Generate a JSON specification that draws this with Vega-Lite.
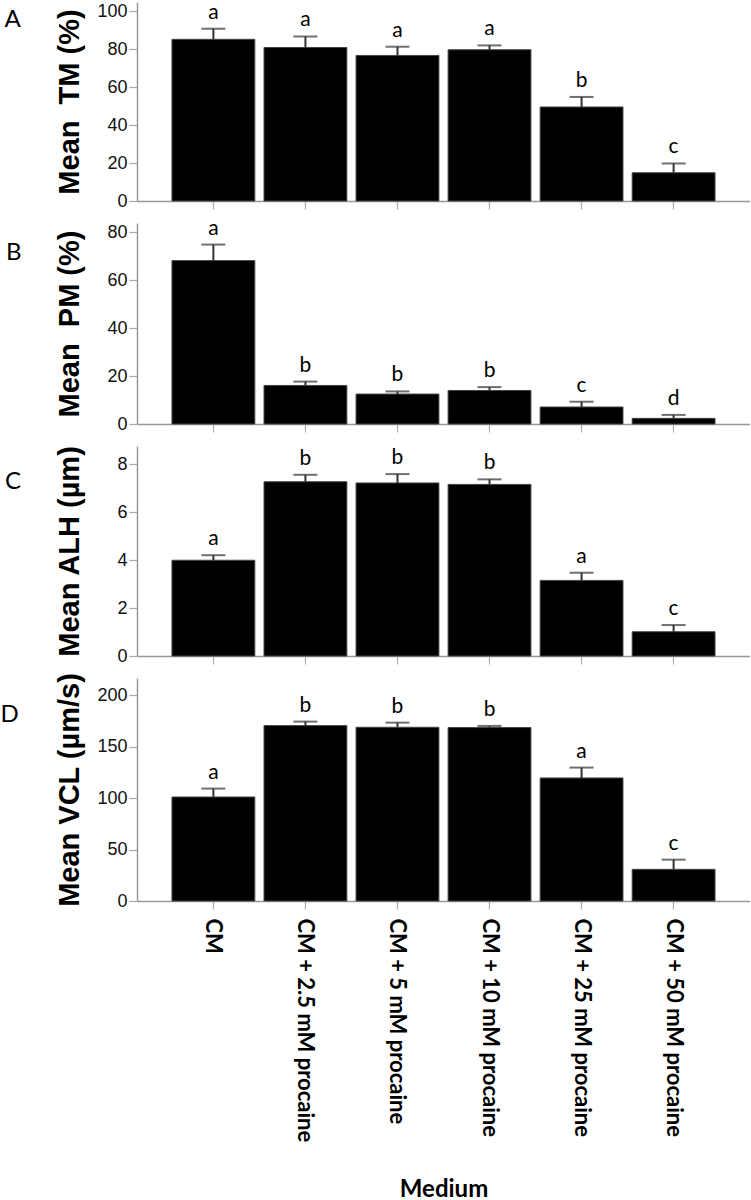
{
  "$schema": "https://vega.github.io/schema/vega-lite/v6.json",
  "padding": {"left": 0, "top": 1, "right": 0, "bottom": 0},
  "background": "white",
  "config": {
    "view": {"stroke": null},
    "axis": {"domainColor": "#999", "domainWidth": 1.5, "tickColor": "#aaa", "tickWidth": 1.2, "grid": false, "tickSize": 8},
    "axisY": {"labelOverlap": false, "titleX": -59, "titleBaseline": "alphabetic", "titleFont": "Liberation Sans", "titleFontSize": 29, "titleFontWeight": "bold", "titleColor": "#000", "labelFont": "Liberation Sans", "labelFontSize": 18, "labelColor": "#111", "labelPadding": 2},
    "title": {"orient": "left", "anchor": "end", "frame": "group", "angle": 0, "align": "right", "baseline": "top", "font": "Lato", "fontSize": 24, "fontWeight": "normal", "color": "#000", "offset": 18}
  },
  "data": {
    "values": [
      {"panel": "A", "medium": "CM", "mean": 85.3, "upper": 90.9, "letter": "a"},
      {"panel": "A", "medium": "CM + 2.5 mM procaine", "mean": 81.0, "upper": 86.8, "letter": "a"},
      {"panel": "A", "medium": "CM + 5 mM procaine", "mean": 76.8, "upper": 81.4, "letter": "a"},
      {"panel": "A", "medium": "CM + 10 mM procaine", "mean": 79.8, "upper": 82.1, "letter": "a"},
      {"panel": "A", "medium": "CM + 25 mM procaine", "mean": 49.6, "upper": 54.9, "letter": "b"},
      {"panel": "A", "medium": "CM + 50 mM procaine", "mean": 14.9, "upper": 19.8, "letter": "c"},
      {"panel": "B", "medium": "CM", "mean": 68.2, "upper": 74.9, "letter": "a"},
      {"panel": "B", "medium": "CM + 2.5 mM procaine", "mean": 16.1, "upper": 17.7, "letter": "b"},
      {"panel": "B", "medium": "CM + 5 mM procaine", "mean": 12.5, "upper": 13.6, "letter": "b"},
      {"panel": "B", "medium": "CM + 10 mM procaine", "mean": 14.0, "upper": 15.4, "letter": "b"},
      {"panel": "B", "medium": "CM + 25 mM procaine", "mean": 7.1, "upper": 9.3, "letter": "c"},
      {"panel": "B", "medium": "CM + 50 mM procaine", "mean": 2.35, "upper": 3.8, "letter": "d"},
      {"panel": "C", "medium": "CM", "mean": 3.99, "upper": 4.2, "letter": "a"},
      {"panel": "C", "medium": "CM + 2.5 mM procaine", "mean": 7.26, "upper": 7.55, "letter": "b"},
      {"panel": "C", "medium": "CM + 5 mM procaine", "mean": 7.21, "upper": 7.58, "letter": "b"},
      {"panel": "C", "medium": "CM + 10 mM procaine", "mean": 7.15, "upper": 7.36, "letter": "b"},
      {"panel": "C", "medium": "CM + 25 mM procaine", "mean": 3.15, "upper": 3.47, "letter": "a"},
      {"panel": "C", "medium": "CM + 50 mM procaine", "mean": 1.01, "upper": 1.29, "letter": "c"},
      {"panel": "D", "medium": "CM", "mean": 101.1, "upper": 109.3, "letter": "a"},
      {"panel": "D", "medium": "CM + 2.5 mM procaine", "mean": 170.5, "upper": 174.4, "letter": "b"},
      {"panel": "D", "medium": "CM + 5 mM procaine", "mean": 168.9, "upper": 173.4, "letter": "b"},
      {"panel": "D", "medium": "CM + 10 mM procaine", "mean": 168.6, "upper": 170.2, "letter": "b"},
      {"panel": "D", "medium": "CM + 25 mM procaine", "mean": 119.6, "upper": 129.7, "letter": "a"},
      {"panel": "D", "medium": "CM + 50 mM procaine", "mean": 30.8, "upper": 40.2, "letter": "c"}
    ]
  },
  "spacing": 22,
  "bounds": "flush",
  "vconcat": [
    {
      "width": 613, "height": 199,
      "title": {"text": "A", "dy": 6},
      "transform": [{"filter": "datum.panel === 'A'"}],
      "encoding": {"x": {"field": "medium", "type": "nominal", "sort": null, "scale": {"paddingInner": 0.1, "paddingOuter": 0.38}, "axis": {"labels": false, "ticks": true, "title": null}}},
      "layer": [
        {"mark": {"type": "bar", "color": "#000", "stroke": "#444", "strokeWidth": 1}, "encoding": {"y": {"field": "mean", "type": "quantitative", "title": "Mean\u00a0 TM (%)", "scale": {"domain": [0, 105], "nice": false}, "axis": {"values": [0, 20, 40, 60, 80, 100], "labelOverlap": false}}}},
        {"mark": {"type": "rule", "color": "#333", "strokeWidth": 2}, "encoding": {"y": {"field": "mean", "type": "quantitative", "title": "Mean\u00a0 TM (%)", "axis": {"values": [0, 20, 40, 60, 80, 100], "labelOverlap": false}}, "y2": {"field": "upper"}}},
        {"mark": {"type": "tick", "color": "#333", "thickness": 2, "size": 24}, "encoding": {"y": {"field": "upper", "type": "quantitative", "title": "Mean\u00a0 TM (%)", "axis": {"values": [0, 20, 40, 60, 80, 100], "labelOverlap": false}}}},
        {"mark": {"type": "text", "font": "Lato", "fontSize": 21, "dy": -10, "baseline": "alphabetic", "color": "#000"}, "encoding": {"y": {"field": "upper", "type": "quantitative", "title": "Mean\u00a0 TM (%)", "axis": {"values": [0, 20, 40, 60, 80, 100], "labelOverlap": false}}, "text": {"field": "letter"}}}
      ]
    },
    {
      "width": 613, "height": 201,
      "title": {"text": "B", "dy": 18},
      "transform": [{"filter": "datum.panel === 'B'"}],
      "encoding": {"x": {"field": "medium", "type": "nominal", "sort": null, "scale": {"paddingInner": 0.1, "paddingOuter": 0.38}, "axis": {"labels": false, "ticks": true, "title": null}}},
      "layer": [
        {"mark": {"type": "bar", "color": "#000", "stroke": "#444", "strokeWidth": 1}, "encoding": {"y": {"field": "mean", "type": "quantitative", "title": "Mean\u00a0 PM (%)", "scale": {"domain": [0, 83.9], "nice": false}, "axis": {"values": [0, 20, 40, 60, 80]}}}},
        {"mark": {"type": "rule", "color": "#333", "strokeWidth": 2}, "encoding": {"y": {"field": "mean", "type": "quantitative", "title": "Mean\u00a0 PM (%)", "axis": {"values": [0, 20, 40, 60, 80]}}, "y2": {"field": "upper"}}},
        {"mark": {"type": "tick", "color": "#333", "thickness": 2, "size": 24}, "encoding": {"y": {"field": "upper", "type": "quantitative", "title": "Mean\u00a0 PM (%)", "axis": {"values": [0, 20, 40, 60, 80]}}}},
        {"mark": {"type": "text", "font": "Lato", "fontSize": 21, "dy": -10, "baseline": "alphabetic", "color": "#000"}, "encoding": {"y": {"field": "upper", "type": "quantitative", "title": "Mean\u00a0 PM (%)", "axis": {"values": [0, 20, 40, 60, 80]}}, "text": {"field": "letter"}}}
      ]
    },
    {
      "width": 613, "height": 210,
      "title": {"text": "C", "dy": 24},
      "transform": [{"filter": "datum.panel === 'C'"}],
      "encoding": {"x": {"field": "medium", "type": "nominal", "sort": null, "scale": {"paddingInner": 0.1, "paddingOuter": 0.38}, "axis": {"labels": false, "ticks": true, "title": null}}},
      "layer": [
        {"mark": {"type": "bar", "color": "#000", "stroke": "#444", "strokeWidth": 1}, "encoding": {"y": {"field": "mean", "type": "quantitative", "title": "Mean ALH (µm)", "scale": {"domain": [0, 8.75], "nice": false}, "axis": {"values": [0, 2, 4, 6, 8]}}}},
        {"mark": {"type": "rule", "color": "#333", "strokeWidth": 2}, "encoding": {"y": {"field": "mean", "type": "quantitative", "title": "Mean ALH (µm)", "axis": {"values": [0, 2, 4, 6, 8]}}, "y2": {"field": "upper"}}},
        {"mark": {"type": "tick", "color": "#333", "thickness": 2, "size": 24}, "encoding": {"y": {"field": "upper", "type": "quantitative", "title": "Mean ALH (µm)", "axis": {"values": [0, 2, 4, 6, 8]}}}},
        {"mark": {"type": "text", "font": "Lato", "fontSize": 21, "dy": -10, "baseline": "alphabetic", "color": "#000"}, "encoding": {"y": {"field": "upper", "type": "quantitative", "title": "Mean ALH (µm)", "axis": {"values": [0, 2, 4, 6, 8]}}, "text": {"field": "letter"}}}
      ]
    },
    {
      "width": 613, "height": 223,
      "title": {"text": "D", "dy": 25},
      "transform": [{"filter": "datum.panel === 'D'"}],
      "encoding": {"x": {"field": "medium", "type": "nominal", "sort": null, "scale": {"paddingInner": 0.1, "paddingOuter": 0.38}, "axis": {"labelAngle": 90, "labelFont": "Lato", "labelFontWeight": "bold", "labelFontSize": 22, "labelColor": "#000", "labelPadding": 9, "labelLimit": 400, "ticks": true, "title": "Medium", "titleFont": "Lato", "titleFontSize": 24, "titleFontWeight": "bold", "titleColor": "#000", "titlePadding": 76}}},
      "layer": [
        {"mark": {"type": "bar", "color": "#000", "stroke": "#444", "strokeWidth": 1}, "encoding": {"y": {"field": "mean", "type": "quantitative", "title": "Mean VCL (µm/s)", "scale": {"domain": [0, 216.8], "nice": false}, "axis": {"values": [0, 50, 100, 150, 200]}}}},
        {"mark": {"type": "rule", "color": "#333", "strokeWidth": 2}, "encoding": {"y": {"field": "mean", "type": "quantitative", "title": "Mean VCL (µm/s)", "axis": {"values": [0, 50, 100, 150, 200]}}, "y2": {"field": "upper"}}},
        {"mark": {"type": "tick", "color": "#333", "thickness": 2, "size": 24}, "encoding": {"y": {"field": "upper", "type": "quantitative", "title": "Mean VCL (µm/s)", "axis": {"values": [0, 50, 100, 150, 200]}}}},
        {"mark": {"type": "text", "font": "Lato", "fontSize": 21, "dy": -10, "baseline": "alphabetic", "color": "#000"}, "encoding": {"y": {"field": "upper", "type": "quantitative", "title": "Mean VCL (µm/s)", "axis": {"values": [0, 50, 100, 150, 200]}}, "text": {"field": "letter"}}}
      ]
    }
  ]
}
